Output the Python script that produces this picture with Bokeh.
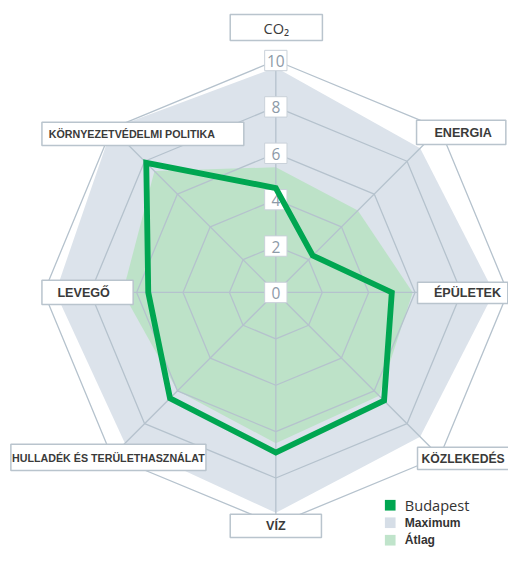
import math
from bokeh.plotting import figure
from bokeh.models import Range1d
from bokeh.core.properties import value
from bokeh.embed import file_html
from bokeh.resources import INLINE

# ---------------- data ----------------
categories = ["CO₂", "ENERGIA", "ÉPÜLETEK", "KÖZLEKEDÉS", "VÍZ",
              "HULLADÉK ÉS TERÜLETHASZNÁLAT", "LEVEGŐ", "KÖRNYEZETVÉDELMI POLITIKA"]
budapest = [4.5, 2.25, 5.0, 6.6, 6.9, 6.45, 5.5, 7.9]
atlag = [5.4, 5.0, 5.9, 6.3, 6.5, 6.0, 6.6, 7.4]
maximum = [9.7, 8.8, 9.4, 8.8, 9.5, 9.2, 9.5, 10.0]
tick_values = [0, 2, 4, 6, 8, 10]
tick_labels = ["0", "2", "4", "6", "8", "10"]
legend_labels = ["Budapest", "Maximum", "Átlag"]

# ---------------- geometry ----------------
W, H = 508, 547
REF_W, REF_H = 524, 563
kx, ky = W / REF_W, H / REF_H
k = (kx + ky) / 2
s = 23.9 * k                 # pixels per unit
cx, cy = 284 * kx, 300.5 * ky
RMAX = 10

def ang(i):
    return math.pi / 2 - i * math.pi / 4

def polar(vals):
    xs = [v * math.cos(ang(i)) for i, v in enumerate(vals)]
    ys = [v * math.sin(ang(i)) for i, v in enumerate(vals)]
    return xs, ys

def ref(X, Y):
    """reference-image pixel -> data coordinates"""
    return ((X * kx - cx) / s, (cy - Y * ky) / s)

def off(x, y, dx, dy):
    """shift a data point by reference pixels (dy downwards)"""
    return (x + dx * k / s, y - dy * k / s)

def fs(px):
    return f"{px * k:.1f}px"

p = figure(width=W, height=H, output_backend="svg", toolbar_location=None,
           x_range=Range1d(-cx / s, (W - cx) / s),
           y_range=Range1d(-(H - cy) / s, cy / s),
           x_axis_type=None, y_axis_type=None, min_border=0,
           outline_line_color=None, background_fill_color="white",
           border_fill_color="white")

# colours
C_MAX = "#dce3eb"
C_AVG = "#bde2c8"
C_LINE = "#00a651"
C_GRID = "#b5c2cd"
C_BOX = "#b9c4cd"
C_TICK = "#8d9aa7"
C_TXT = "#333333"

# fills
mx, my = polar(maximum)
p.patch(mx, my, fill_color=C_MAX, line_color=None)
ax_, ay_ = polar(atlag)
p.patch(ax_, ay_, fill_color=C_AVG, line_color=None)

# grid rings and spokes
ring_xs, ring_ys = [], []
for t in tick_values[1:]:
    xs, ys = polar([t] * len(categories))
    ring_xs.append(xs + [xs[0]])
    ring_ys.append(ys + [ys[0]])
p.multi_line(ring_xs, ring_ys, line_color=C_GRID, line_width=1.3)
ex, ey = polar([RMAX] * len(categories))
p.multi_line([[0, x] for x in ex], [[0, y] for y in ey], line_color=C_GRID, line_width=1.3)

# category labels: (box dx, box dy, box w, box h, text dx, align, font, size, style)
label_layout = [
    (0.5, -34, 95, 27, 0, "center", "Open Sans", 15, "normal"),
    (22, 4, 92, 25, 2, "center", "Liberation Sans", 13, "bold"),
    (-46.5, 0.5, 93, 22, 5, "center", "Liberation Sans", 13, "bold"),
    (27, 2, 100, 23, -46, "left", "Liberation Sans", 12.6, "bold"),
    (0, 1.5, 94, 24, 0, "center", "Liberation Sans", 13, "bold"),
    (-3.5, 1, 201, 27, 0, "center", "Liberation Sans", 11, "bold"),
    (45, 0, 94, 25, -4, "center", "Liberation Sans", 13, "bold"),
    (32, 5.5, 208, 24, -97, "left", "Liberation Sans", 11, "bold"),
]
for i, (cat, lay) in enumerate(zip(categories, label_layout)):
    bdx, bdy, bw, bh, tdx, align, font, size, style = lay
    vx, vy = ex[i], ey[i]
    bx, by = off(vx, vy, bdx, bdy)
    p.rect([bx], [by], width=bw * k, height=bh * k, width_units="screen",
           height_units="screen", fill_color="white", line_color=C_BOX, line_width=1.5)
    tx, ty = off(bx, by, tdx, 0.5)
    p.text([tx], [ty], text=[cat], text_align=align, text_baseline="middle",
           text_font=value(font), text_font_style=style, text_font_size=fs(size),
           text_color="#3a3a3a")

# tick labels on the vertical axis
tx_ = [0] * len(tick_values)
p.rect(tx_, tick_values, width=23 * k, height=21 * k, width_units="screen",
       height_units="screen", fill_color="white", line_color="#c9d1d9", line_width=1)
p.text(tx_, [off(0, t, 0, 0.5)[1] for t in tick_values], text=tick_labels,
       text_align="center", text_baseline="middle", text_font=value("Open Sans"),
       text_font_size=fs(16), text_color=C_TICK)

# Budapest line
bx_, by_ = polar(budapest)
p.patch(bx_, by_, fill_color=None, line_color=C_LINE, line_width=6 * k, line_join="miter")

# legend
leg_colors = [C_LINE, "#d6dee7", "#c0e4cb"]
leg_rows = [(519.5, "Open Sans", 15, "normal"),
            (537.5, "Liberation Sans", 12.5, "bold"),
            (555.5, "Liberation Sans", 12.5, "bold")]
for lab, col, (yy, font, size, style) in zip(legend_labels, leg_colors, leg_rows):
    sx, sy = ref(402, yy)
    p.rect([sx], [sy], width=11 * k, height=11 * k, width_units="screen",
           height_units="screen", fill_color=col, line_color=None)
    lx, ly = ref(417, yy)
    p.text([lx], [ly], text=[lab], text_align="left", text_baseline="middle",
           text_font=value(font), text_font_style=style, text_font_size=fs(size),
           text_color=C_TXT)

open("out.html", "w").write(file_html(p, INLINE))
